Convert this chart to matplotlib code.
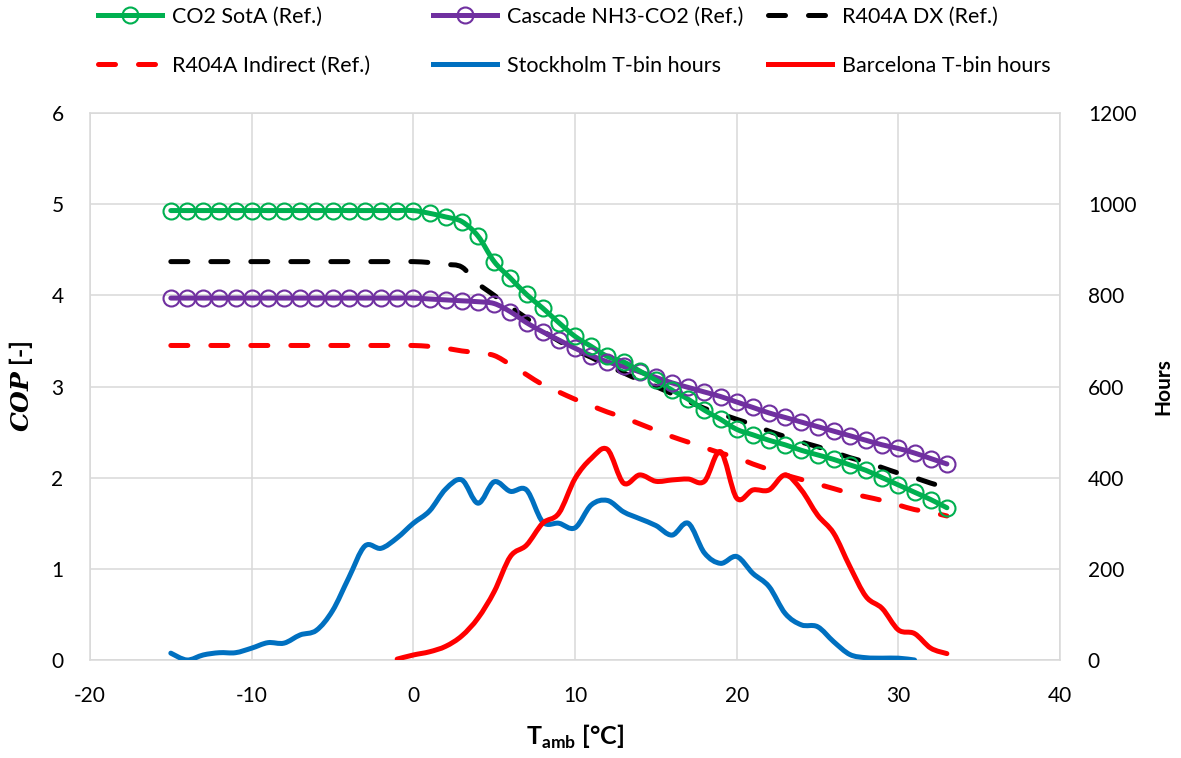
import matplotlib
matplotlib.use('Agg')
import matplotlib.pyplot as plt
from matplotlib.lines import Line2D
from matplotlib.path import Path
from matplotlib.patches import PathPatch

plt.rcParams['font.family'] = ['Lato', 'DejaVu Sans']
plt.rcParams['mathtext.fontset'] = 'custom'
plt.rcParams['mathtext.bf'] = 'Lato:bold'
plt.rcParams['mathtext.rm'] = 'Lato'
plt.rcParams['mathtext.bfit'] = 'DejaVu Serif:italic:bold'
plt.rcParams['axes.unicode_minus'] = False

# Температуры для COP (от -15 до 33 °C)
t_cop = list(range(-15, 34))

co2_sota = [4.93] * 16 + [4.90, 4.86, 4.81, 4.65, 4.37, 4.19, 4.01, 3.86, 3.70, 3.55,
                          3.44, 3.33, 3.27, 3.17, 3.07, 2.96, 2.86, 2.74, 2.64, 2.53,
                          2.47, 2.41, 2.36, 2.30, 2.25, 2.20, 2.14, 2.08, 2.00, 1.92,
                          1.84, 1.76, 1.67]
cascade = [3.97] * 16 + [3.96, 3.95, 3.94, 3.93, 3.91, 3.82, 3.70, 3.60, 3.51, 3.42,
                         3.34, 3.27, 3.22, 3.16, 3.10, 3.04, 2.99, 2.94, 2.89, 2.83,
                         2.77, 2.71, 2.66, 2.61, 2.56, 2.51, 2.46, 2.41, 2.36, 2.32,
                         2.27, 2.21, 2.15]
r404a_dx = [4.37] * 16 + [4.36, 4.34, 4.31, 4.13, 4.00, 3.87, 3.75, 3.61, 3.50, 3.40,
                          3.32, 3.23, 3.15, 3.07, 3.00, 2.92, 2.84, 2.76, 2.70, 2.64,
                          2.58, 2.51, 2.45, 2.39, 2.34, 2.28, 2.22, 2.17, 2.11, 2.05,
                          2.00, 1.94, 1.89]
r404a_ind = [3.45] * 16 + [3.44, 3.42, 3.39, 3.37, 3.34, 3.24, 3.13, 3.02, 2.94, 2.86,
                           2.79, 2.72, 2.66, 2.59, 2.52, 2.45, 2.39, 2.33, 2.27, 2.22,
                           2.15, 2.09, 2.03, 1.98, 1.93, 1.88, 1.83, 1.79, 1.75, 1.70,
                           1.65, 1.62, 1.58]

# Часы по температурным интервалам
t_sth = list(range(-15, 32))
hours_sth = [15, 0, 11, 16, 16, 26, 38, 37, 55, 65, 108, 180, 250, 245, 268, 300,
             327, 375, 395, 344, 391, 370, 373, 303, 300, 290, 340, 350, 325, 310,
             295, 274, 300, 235, 212, 227, 190, 161, 102, 77, 73, 40, 12, 5, 4, 4, 0]
t_bcn = list(range(-1, 34))
hours_bcn = [2, 11, 18, 30, 53, 92, 150, 227, 252, 300, 322, 398, 442, 462, 388, 406,
             392, 395, 397, 392, 457, 355, 373, 373, 406, 373, 318, 278, 205, 139,
             113, 66, 58, 26, 14]

green = '#00B050'
purple = '#7030A0'
blue = '#0070C0'
red = '#FF0000'
grid_c = '#D9D9D9'
lw = 3.6
dash = (0, (3.4, 4.6))


def smooth_line(ax, x, y, color, ls='solid'):
    # сглаженная линия как в Excel (кривые Безье через точки)
    n = len(x)
    verts = [(x[0], y[0])]
    codes = [Path.MOVETO]
    for i in range(n - 1):
        i0 = max(i - 1, 0)
        i3 = min(i + 2, n - 1)
        c1 = (x[i] + (x[i + 1] - x[i0]) / 6, y[i] + (y[i + 1] - y[i0]) / 6)
        c2 = (x[i + 1] - (x[i3] - x[i]) / 6, y[i + 1] - (y[i3] - y[i]) / 6)
        verts += [c1, c2, (x[i + 1], y[i + 1])]
        codes += [Path.CURVE4] * 3
    patch = PathPatch(Path(verts, codes), fill=False, edgecolor=color, lw=lw,
                      linestyle=ls, capstyle='round', joinstyle='round')
    ax.add_patch(patch)


fig = plt.figure(figsize=(11.81, 7.58), dpi=100)
ax = fig.add_axes([0.0762, 0.1293, 0.8214, 0.7216])
ax2 = ax.twinx()

smooth_line(ax, t_cop, r404a_ind, red, dash)
smooth_line(ax, t_cop, r404a_dx, 'black', dash)
smooth_line(ax, t_cop, cascade, purple)
ax.plot(t_cop, cascade, ls='none', marker='o', ms=11.5, mfc='none', mec=purple, mew=1.5)
smooth_line(ax, t_cop, co2_sota, green)
ax.plot(t_cop, co2_sota, ls='none', marker='o', ms=11.5, mfc='none', mec=green, mew=1.5)
smooth_line(ax2, t_sth, hours_sth, blue)
smooth_line(ax2, t_bcn, hours_bcn, red)

ax.set_xlim(-20, 40)
ax.set_ylim(0, 6)
ax2.set_ylim(0, 1200)
ax.set_xticks(range(-20, 41, 10))
ax.set_yticks(range(0, 7))
ax2.set_yticks(range(0, 1201, 200))

ax.grid(True, color=grid_c, lw=1.1)
ax.set_axisbelow(True)
for s in ax.spines.values():
    s.set_color(grid_c)
    s.set_linewidth(1.1)
for s in ax2.spines.values():
    s.set_visible(False)

ax.tick_params(axis='both', length=0, labelsize=15)
ax.tick_params(axis='y', pad=19)
ax.tick_params(axis='x', pad=19)
ax2.tick_params(axis='y', length=0, labelsize=15, pad=20)

ax.set_xlabel(r'T$_{\mathbf{amb}}$ [°C]', fontsize=18, fontweight='bold', labelpad=12)
ax.set_ylabel(r'$\mathbfit{COP}$ [-]', fontsize=18, fontweight='bold', labelpad=12)
ax2.set_ylabel('Hours', fontsize=15, fontweight='bold', labelpad=12)

# Легенда: три колонки по две строки
h1 = Line2D([], [], color=green, lw=lw, marker='o', ms=11.5, mfc='none', mew=1.5)
h2 = Line2D([], [], color=purple, lw=lw, marker='o', ms=11.5, mfc='none', mew=1.5)
h3 = Line2D([], [], color='black', lw=lw, dashes=(3.4, 4.6), dash_capstyle='round')
h4 = Line2D([], [], color=red, lw=lw, dashes=(3.4, 4.6), dash_capstyle='round')
h5 = Line2D([], [], color=blue, lw=lw)
h6 = Line2D([], [], color=red, lw=lw)
cols = [([h1, h4], ['CO2 SotA (Ref.)', 'R404A Indirect (Ref.)'], 0.083),
        ([h2, h5], ['Cascade NH3-CO2 (Ref.)', 'Stockholm T-bin hours'], 0.3666),
        ([h3, h6], ['R404A DX (Ref.)', 'Barcelona T-bin hours'], 0.650)]
for handles, labels, xpos in cols:
    fig.legend(handles=handles, labels=labels,
               loc='upper left', bbox_to_anchor=(xpos, 0.991), frameon=False,
               fontsize=15.5, handlelength=2.98, handletextpad=0.47,
               labelspacing=1.35, borderpad=0, borderaxespad=0, numpoints=1)

fig.savefig('out.png', dpi=100)
